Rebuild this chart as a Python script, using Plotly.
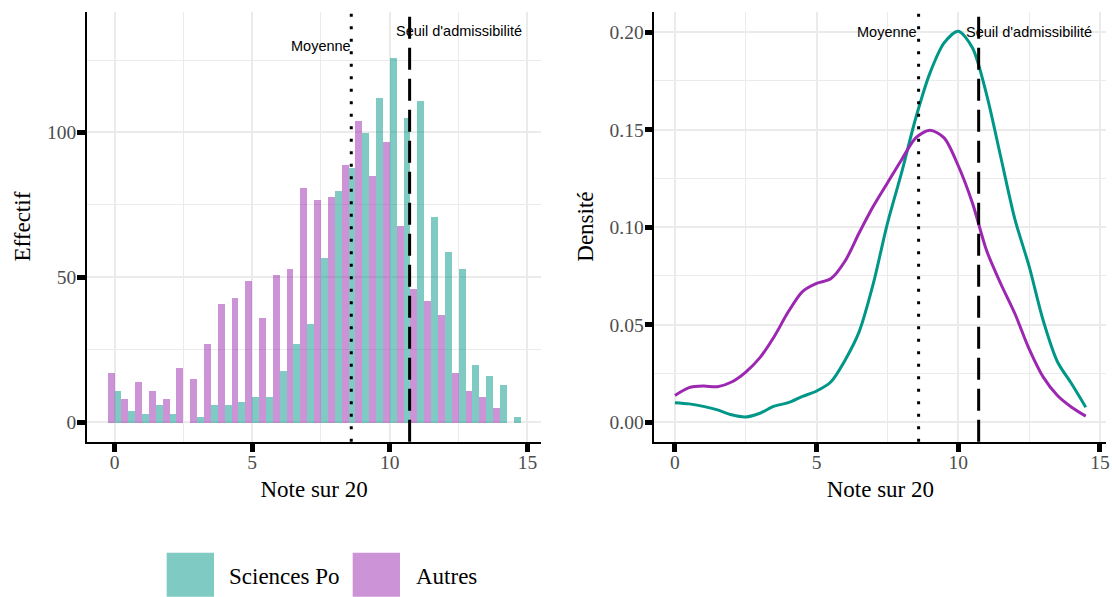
import plotly.graph_objects as go

# ---------------- data ----------------
bin_centers = [i * 0.5 for i in range(30)]  # 0, 0.5, ..., 14.5
counts_autres = [17, 8, 14, 11, 8, 19, 15, 27, 41, 43, 49, 36, 51, 53, 81,
                 77, 78, 89, 104, 85, 97, 68, 46, 42, 37, 17, 11, 9, 5, 0]
counts_scpo = [11, 4, 3, 6, 3, 0, 2, 6, 6, 7, 9, 9, 18, 27, 34,
               57, 80, 88, 100, 112, 126, 105, 111, 71, 59, 53, 20, 16, 13, 2]

dens_x = [i * 0.5 for i in range(30)]
dens_scpo = [0.0100, 0.0094, 0.0081, 0.0063, 0.0038, 0.0027, 0.0046, 0.0082,
             0.0100, 0.0132, 0.0160, 0.0206, 0.0317, 0.0463, 0.0710, 0.1020,
             0.1280, 0.1560, 0.1790, 0.1945, 0.2005, 0.1920, 0.1680, 0.1360,
             0.1040, 0.0800, 0.0520, 0.0310, 0.0197, 0.0077]
dens_autres = [0.0137, 0.0177, 0.0185, 0.0182, 0.0206, 0.0257, 0.0331, 0.0438,
               0.0566, 0.0670, 0.0712, 0.0735, 0.0825, 0.0970, 0.1107, 0.1227,
               0.1346, 0.1458, 0.1497, 0.1458, 0.1315, 0.1124, 0.0880, 0.0710,
               0.0556, 0.0376, 0.0231, 0.0137, 0.0077, 0.0031]

moyenne = 8.6
seuil = 10.72

series_names = ["Sciences Po", "Autres"]
label_moyenne = "Moyenne"
label_seuil = "Seuil d'admissibilité"
x_title = "Note sur 20"
y_title_left = "Effectif"
y_title_right = "Densité"

# ---------------- style ----------------
TEAL = "#009688"
PURPLE = "#9C27B0"
TEAL_FILL = "rgba(0,150,136,0.5)"
PURPLE_FILL = "rgba(156,39,176,0.5)"
GRID = "#ebebeb"
SERIF = "Liberation Serif"
SANS = "Liberation Sans"
W, H = 1112, 597

fig = go.Figure()

fig.add_trace(go.Bar(x=bin_centers, y=counts_autres, name=series_names[1],
                     marker=dict(color=PURPLE_FILL, line=dict(width=0)),
                     showlegend=False, xaxis="x", yaxis="y"))
fig.add_trace(go.Bar(x=bin_centers, y=counts_scpo, name=series_names[0],
                     marker=dict(color=TEAL_FILL, line=dict(width=0)),
                     showlegend=False, xaxis="x", yaxis="y"))

fig.add_trace(go.Scatter(x=dens_x, y=dens_scpo, mode="lines", name=series_names[0],
                         line=dict(color=TEAL, width=3, shape="spline", smoothing=0.8),
                         showlegend=False, xaxis="x2", yaxis="y2"))
fig.add_trace(go.Scatter(x=dens_x, y=dens_autres, mode="lines", name=series_names[1],
                         line=dict(color=PURPLE, width=3, shape="spline", smoothing=0.8),
                         showlegend=False, xaxis="x2", yaxis="y2"))

def axis_common(**kw):
    d = dict(
        showline=True, linecolor="black", linewidth=1.6, mirror=False,
        ticks="outside", ticklen=8, tickwidth=5, tickcolor="black",
        showgrid=True, gridcolor=GRID, gridwidth=2,
        zeroline=False,
        tickfont=dict(family=SERIF, size=19.5, color="#4d4d4d"),
        automargin=False,
    )
    d.update(kw)
    return d

ydom = [1 - 441.7 / H, 1 - 11.5 / H]

fig.update_layout(
    width=W, height=H,
    margin=dict(l=0, r=0, t=0, b=0),
    paper_bgcolor="white", plot_bgcolor="white",
    barmode="group", bargap=0, bargroupgap=0,
    showlegend=False,
    xaxis=axis_common(domain=[87.0 / W, 541.2 / W], range=[-1.0, 15.5],
                      tickvals=[0, 5, 10, 15], anchor="y", ticklabelstandoff=-6,
                      minor=dict(dtick=2.5, tick0=0, showgrid=True, gridcolor=GRID, gridwidth=1.2),
                      title=dict(text=x_title, font=dict(family=SERIF, size=23, color="black"), standoff=9)),
    yaxis=axis_common(domain=ydom, range=[-6.75, 141.75],
                      tickvals=[0, 50, 100], anchor="x", ticklabelstandoff=-3,
                      minor=dict(dtick=25, tick0=0, showgrid=True, gridcolor=GRID, gridwidth=1.2),
                      title=dict(text=y_title_left, font=dict(family=SERIF, size=23, color="black"), standoff=10)),
    xaxis2=axis_common(domain=[654.4 / W, 1106.3 / W], range=[-0.725, 15.225],
                       tickvals=[0, 5, 10, 15], anchor="y2", ticklabelstandoff=-6,
                       minor=dict(dtick=2.5, tick0=0, showgrid=True, gridcolor=GRID, gridwidth=1.2),
                       title=dict(text=x_title, font=dict(family=SERIF, size=23, color="black"), standoff=9)),
    yaxis2=axis_common(domain=ydom, range=[-0.01, 0.2106],
                       tickvals=[0, 0.05, 0.10, 0.15, 0.20], tickformat=".2f", anchor="x2",
                       ticklabelstandoff=-3,
                       minor=dict(dtick=0.025, tick0=0, showgrid=True, gridcolor=GRID, gridwidth=1.2),
                       title=dict(text=y_title_right, font=dict(family=SERIF, size=23, color="black"), standoff=10)),
)

# vertical reference lines
for xr, yr in [("x", "y domain"), ("x2", "y2 domain")]:
    fig.add_shape(type="line", xref=xr, yref=yr, x0=moyenne, x1=moyenne, y0=0, y1=1,
                  line=dict(color="black", width=3, dash="3px,9.5px"))
    fig.add_shape(type="line", xref=xr, yref=yr, x0=seuil, x1=seuil, y0=0, y1=1,
                  line=dict(color="black", width=3, dash="22px,9px"))

ann_font = dict(family=SANS, size=14.5, color="black")
fig.add_annotation(x=7.5, y=130, xref="x", yref="y", text=label_moyenne, showarrow=False,
                   xanchor="center", yanchor="middle", font=ann_font)
fig.add_annotation(x=12.5, y=135, xref="x", yref="y", text=label_seuil, showarrow=False,
                   xanchor="center", yanchor="middle", font=ann_font)
fig.add_annotation(x=7.5, y=0.2, xref="x2", yref="y2", text=label_moyenne, showarrow=False,
                   xanchor="center", yanchor="middle", font=ann_font)
fig.add_annotation(x=12.5, y=0.2, xref="x2", yref="y2", text=label_seuil, showarrow=False,
                   xanchor="center", yanchor="middle", font=ann_font)

# legend (drawn as keys + text)
leg_font = dict(family=SERIF, size=23, color="black")
keys = [(166.7, 214.0, TEAL_FILL, series_names[0], 227.3),
        (352.7, 400.0, PURPLE_FILL, series_names[1], 414.0)]
for x0, x1, col, name, tx in keys:
    fig.add_shape(type="rect", xref="paper", yref="paper",
                  x0=x0 / W, x1=x1 / W, y0=1 - 596.7 / H, y1=1 - 552.7 / H,
                  line=dict(width=0), fillcolor=col)
    fig.add_annotation(x=tx / W, y=1 - 576.5 / H, xref="paper", yref="paper", text=name,
                       showarrow=False, xanchor="left", yanchor="middle", font=leg_font)

fig.write_html("out.html",
               config={"displayModeBar": False},
               post_script="document.body.style.margin='0';document.body.style.overflow='hidden';")
